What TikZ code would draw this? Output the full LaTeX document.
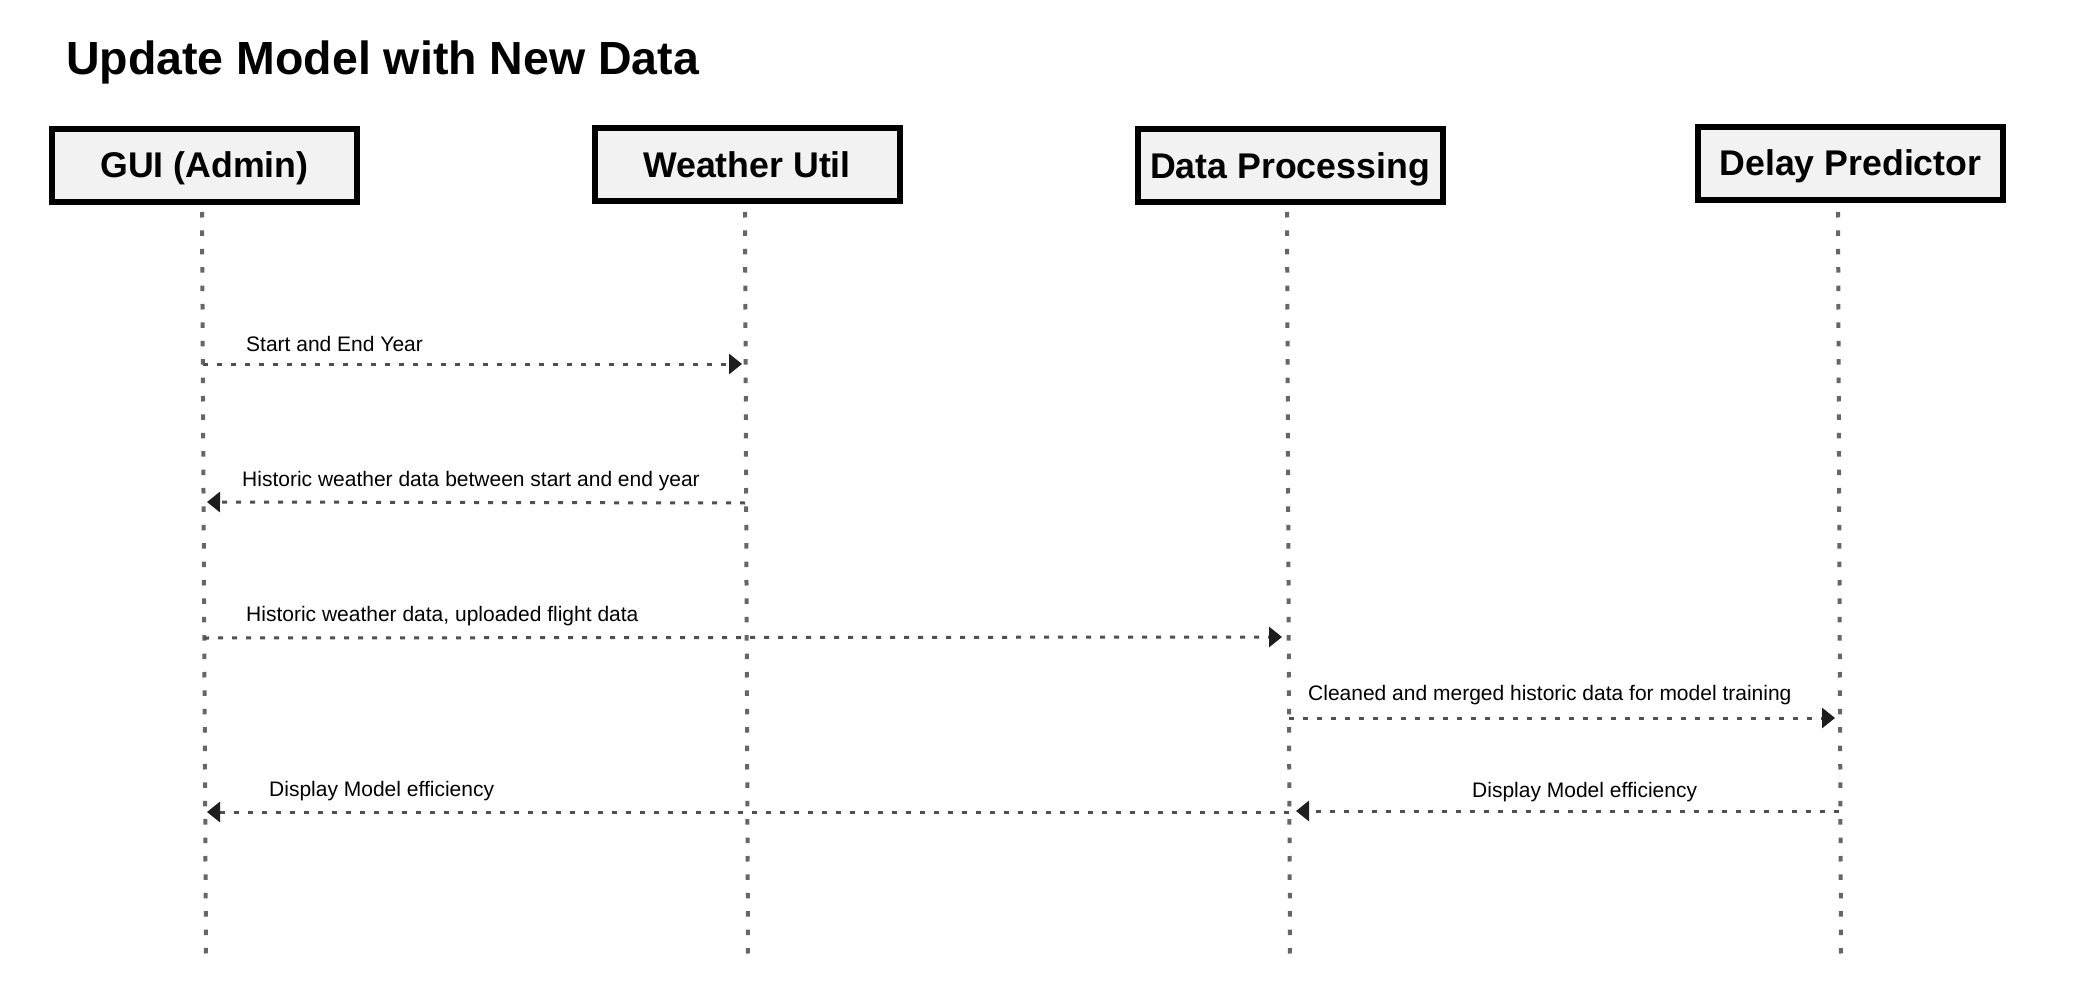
\documentclass[tikz,border=0pt]{standalone}
\usepackage{fontspec}
\setmainfont{Liberation Sans}
\usetikzlibrary{arrows.meta}
\definecolor{boxfill}{HTML}{F2F2F2}
\definecolor{lifegray}{HTML}{666666}
\definecolor{msggray}{HTML}{505050}
\definecolor{tipblack}{HTML}{1E1E1E}
\begin{document}
\begin{tikzpicture}[x=1pt,y=-1pt,
  actor/.style={draw=black, line width=6pt, fill=boxfill, minimum width=305pt, minimum height=73pt, inner sep=0pt,
    text height=25pt, text depth=0pt,
    font=\fontsize{35.7}{40}\selectfont\bfseries},
  lifeline/.style={draw=lifegray, line width=4pt, dash pattern=on 5.5pt off 12.9pt},
  msg/.style={draw=msggray, line width=3pt, dash pattern=on 5pt off 9pt,
    -{Triangle[length=13pt,width=20pt,color=tipblack]}},
  lbl/.style={anchor=west, inner sep=0pt, font=\fontsize{21}{24}\selectfont},
  titlestyle/.style={anchor=west, inner sep=0pt, font=\fontsize{46.5}{50}\selectfont\bfseries}
]
\useasboundingbox[fill=white] (0,0) rectangle (2088,1000);

\node[titlestyle] (title) at (66,62) {Update Model with New Data};

\node[actor] (gui) at (204.5,165.5) {GUI (Admin)};
\node[actor] (wu) at (747,165) {Weather Util};
\node[actor] (dp) at (1290,166) {Data Processing};
\node[actor] (pred) at (1850.5,163.5) {Delay Predictor};

% lifelines
\coordinate (guiT) at (202,212);  \coordinate (guiB) at (206,958);
\coordinate (wuT) at (745,212);   \coordinate (wuB) at (748,958);
\coordinate (dpT) at (1287,212);  \coordinate (dpB) at (1290,958);
\coordinate (prT) at (1838,212);  \coordinate (prB) at (1841,958);
\draw[lifeline] (guiT) -- (guiB);
\draw[lifeline] (wuT) -- (wuB);
\draw[lifeline] (dpT) -- (dpB);
\draw[lifeline] (prT) -- (prB);

% message end points
\coordinate (m1a) at (203,364);  \coordinate (m1b) at (742,364);
\coordinate (m2a) at (745,503);  \coordinate (m2b) at (207,502);
\coordinate (m3a) at (204,638);  \coordinate (m3b) at (1282,637);
\coordinate (m4a) at (1289,718); \coordinate (m4b) at (1835,718);
\coordinate (m5a) at (1839,811); \coordinate (m5b) at (1296,811);
\coordinate (m6a) at (1289,812); \coordinate (m6b) at (207,812);

\draw[msg] (m1a) -- (m1b);
\draw[msg] (m2a) -- (m2b);
\draw[msg] (m3a) -- (m3b);
\draw[msg] (m4a) -- (m4b);
\draw[msg] (m5a) -- (m5b);
\draw[msg] (m6a) -- (m6b);

\node[lbl] (l1) at (246,344) {Start and End Year};
\node[lbl] (l2) at (242,481) {Historic weather data between start and end year};
\node[lbl] (l3) at (246,616) {Historic weather data, uploaded flight data};
\node[lbl] (l4) at (1308,695) {Cleaned and merged historic data for model training};
\node[lbl] (l5) at (1472,792) {Display Model efficiency};
\node[lbl] (l6) at (269,791) {Display Model efficiency};
\end{tikzpicture}
\end{document}
